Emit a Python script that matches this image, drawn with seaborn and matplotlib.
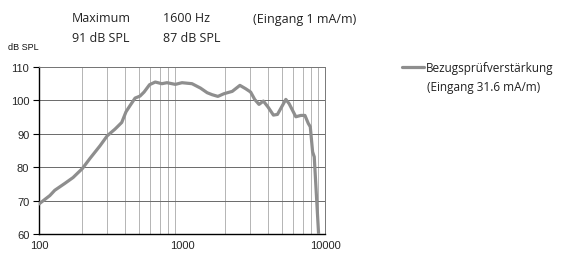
import numpy as np
import pandas as pd
import matplotlib
matplotlib.use('Agg')
import matplotlib.pyplot as plt
import seaborn as sns

# Frequency response
freq_hz = [100, 119, 129, 151, 173, 201, 227, 267, 300, 340, 379, 406, 434, 470,
           509, 543, 593, 650, 723, 785, 898, 1000, 1175, 1345, 1500, 1626, 1782,
           1964, 2245, 2540, 2786, 3020, 3223, 3456, 3706, 3998, 4357, 4650, 5044,
           5321, 5615, 6252, 6777, 7240, 7640, 7890, 8190, 8410, 9020]
gain_db = [69.0, 71.5, 73.1, 75.1, 76.9, 79.6, 82.6, 86.4, 89.4, 91.4, 93.4, 96.6,
           98.5, 100.7, 101.3, 102.5, 104.7, 105.5, 105.0, 105.3, 104.8, 105.3, 105.0,
           103.7, 102.3, 101.7, 101.2, 102.0, 102.7, 104.5, 103.5, 102.5, 100.3, 98.8,
           99.8, 98.0, 95.6, 95.8, 98.5, 100.3, 99.0, 95.1, 95.5, 95.5, 93.1, 92.1,
           84.6, 83.1, 60.0]

y_ticks = [60, 70, 80, 90, 100, 110]
x_ticks = [100, 1000, 10000]
legend_label = 'Bezugsprüfverstärkung'
legend_note = '(Eingang 31.6 mA/m)'
header_rows = [['Maximum', '1600 Hz', '(Eingang 1 mA/m)'],
               ['91 dB SPL', '87 dB SPL']]

df = pd.DataFrame({'freq': freq_hz, 'gain': gain_db})

sns.set_style('white')
plt.rcParams['font.family'] = ['Liberation Sans', 'DejaVu Sans']

fig = plt.figure(figsize=(5.61, 2.55), dpi=100)
ax = fig.add_axes([39 / 561, 1 - 235 / 255, (325 - 39) / 561, (235 - 68) / 255])

sns.lineplot(data=df, x='freq', y='gain', ax=ax, color='#8e8e8e', linewidth=2.3,
             label=legend_label, zorder=3)

ax.set_xscale('log')
ax.set_xlim(100, 10000)
ax.set_ylim(60, 110)
ax.set_xticks(x_ticks)
ax.set_xticklabels([str(t) for t in x_ticks])
ax.set_yticks(y_ticks)
ax.xaxis.set_minor_formatter(matplotlib.ticker.NullFormatter())
ax.tick_params(axis='both', which='both', labelsize=8, length=0, pad=4)
ax.tick_params(axis='y', which='major', length=4, direction='out', left=True,
               color='black', width=0.8, pad=3)
ax.set_xlabel('')
ax.set_ylabel('')

# grid
ax.grid(True, which='major', axis='y', color='#6a6a6a', linewidth=0.7)
ax.grid(True, which='minor', axis='x', color='#a8a8a8', linewidth=0.6)
ax.grid(False, which='major', axis='x')
for side in ['top', 'right']:
    ax.spines[side].set_color('#777777')
    ax.spines[side].set_linewidth(0.7)
for side in ['left', 'bottom']:
    ax.spines[side].set_color('black')
    ax.spines[side].set_linewidth(1.0)

txt_font = 'Open Sans'
leg = ax.legend(loc='center left', bbox_to_anchor=(402 / 561, 1 - 69 / 255),
                bbox_transform=fig.transFigure, frameon=False, handlelength=1.9,
                handletextpad=0.1, borderaxespad=0, borderpad=0,
                prop={'family': txt_font, 'size': 8.5})
for t in leg.get_texts():
    t.set_color('#222222')
fig.text(427 / 561, 1 - 88 / 255, legend_note, ha='left', va='center',
         fontsize=8.5, family=txt_font, color='#222222')

# header text
col_x = [72, 163, 253]
row_y = [19, 39]
for r, row in enumerate(header_rows):
    for c, txt in enumerate(row):
        fig.text(col_x[c] / 561, 1 - row_y[r] / 255, txt, ha='left', va='center',
                 fontsize=9, family=txt_font, color='#222222')
fig.text(8 / 561, 1 - 47 / 255, 'dB SPL', ha='left', va='center', fontsize=6.5,
         color='#111111')

fig.savefig('out.png', dpi=100)
